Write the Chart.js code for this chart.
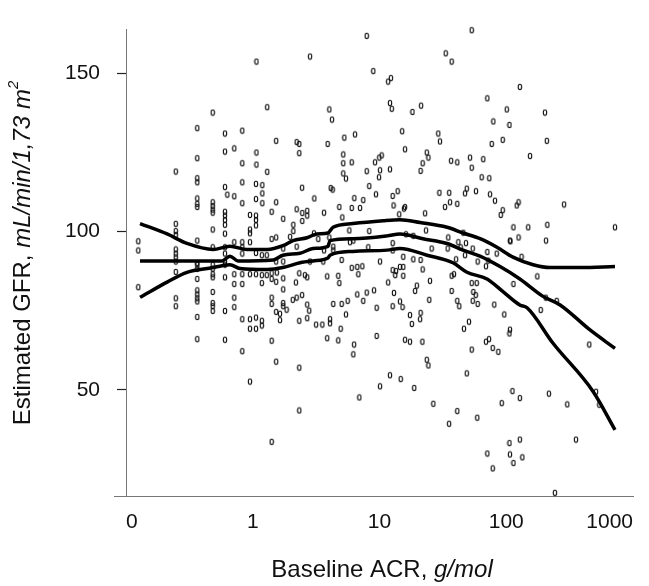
<!DOCTYPE html>
<html lang="en">
<head>
    <meta charset="UTF-8">
    <title>Estimated GFR by baseline ACR</title>
    <style>
        body { margin: 0; background: #fff; }
        #wrap { width: 649px; height: 586px; }
    </style>
    <script src="https://cdn.jsdelivr.net/npm/chart.js@4/dist/chart.umd.min.js"></script>
</head>
<body>
<div id="wrap"><canvas id="gfrChart" width="649" height="586"></canvas></div>
<script>
    // axis ticks
    const xTicks = [0.1, 1, 10, 100, 1000];
    const xTickLabels = ['0', '1', '10', '100', '1000'];
    const yTicks = [50, 100, 150];

    // individual patients: baseline ACR (g/mol) and estimated GFR
    const acr = [
        0.483, 0.365, 0.604, 0.827, 0.604, 0.715, 0.365, 0.827, 0.247, 0.365,
        0.365, 0.827, 0.604, 0.630, 0.715, 0.365, 0.365, 0.365, 0.483, 0.483,
        0.483, 0.483, 0.827, 0.604, 0.604, 0.604, 0.604, 0.951, 0.483, 0.247,
        0.951, 0.951, 0.247, 0.247, 0.604, 0.125, 0.125, 0.365, 0.715, 0.827,
        0.951, 0.247, 0.247, 0.247, 0.247, 0.483, 0.604, 0.604, 0.604, 0.827,
        0.827, 0.365, 0.125, 0.247, 0.247, 0.247, 0.365, 0.365, 0.365, 0.365,
        0.365, 0.365, 0.365, 0.365, 0.365, 0.483, 0.483, 0.483, 0.483, 0.483,
        0.483, 0.483, 0.483, 0.604, 0.604, 0.604, 0.604, 0.715, 0.715, 0.715,
        0.827, 0.827, 0.715, 0.827, 0.827, 0.951, 0.951, 0.951, 0.951,
        7.93, 1.07, 2.83, 8.93, 1.30, 4.02, 4.22, 1.53, 2.22, 2.33,
        3.90, 5.28, 6.41, 1.07, 2.33, 5.18, 1.07, 1.30, 5.18, 6.04,
        5.18, 5.44, 7.93, 9.22, 9.96, 10.4, 10.1, 9.91, 1.06, 1.19,
        1.19, 2.45, 4.12, 4.27, 8.31, 9.38, 1.06, 1.19, 1.53, 3.06,
        6.33, 7.45, 1.06, 1.06, 1.06, 1.41, 2.22, 2.46, 2.69, 2.69,
        1.74, 2.46, 3.65, 4.82, 6.04, 7.02, 5.09, 2.09, 2.09, 1.41,
        1.53, 1.97, 3.04, 3.29, 4.02, 5.78, 8.31, 4.32, 4.32, 5.85,
        6.22, 1.74, 2.22, 3.65, 8.16, 1.06, 1.18, 1.29, 1.74, 1.53,
        2.83, 3.60, 5.03, 10.1, 6.04, 6.68, 7.32, 6.81, 1.06, 1.18,
        1.18, 1.29, 1.41, 1.41, 1.55, 1.53, 1.74, 2.19, 2.33, 2.58,
        2.69, 3.87, 4.73, 4.82, 1.74, 1.41, 1.41, 1.74, 1.74, 2.07,
        2.22, 2.45, 2.69, 2.79, 1.85, 1.53, 1.64, 1.64, 1.06, 1.18,
        1.18, 1.06, 2.33, 2.69, 3.16, 3.54, 4.07, 4.07, 4.32, 5.03,
        5.61, 6.68, 7.93, 9.05, 7.45, 5.44, 9.50, 4.94, 3.87, 4.73,
        6.30, 6.22, 9.50, 1.41, 1.53, 2.33, 10.1, 6.93, 2.33, 1.41,
        53.4, 33.3, 37.1, 11.7, 12.3, 12.1, 12.5, 18.2, 21.3, 70.9,
        101, 79.1, 106, 15.1, 29.1, 30.0, 76.8, 93.8, 15.9, 23.6,
        24.3, 21.9, 21.1, 36.7, 41.1, 51.8, 53.4, 65.9, 64.0, 73.5,
        12.1, 12.7, 13.9, 12.9, 15.9, 15.6, 29.7, 35.5, 47.3, 48.8,
        57.7, 74.5, 81.5, 32.9, 36.0, 41.1, 93.8, 90.4, 14.3, 22.9,
        114, 23.3, 16.2, 18.5, 12.7, 12.7, 25.8, 34.9, 34.5, 45.8,
        41.9, 43.7, 48.1, 54.4, 70.9, 84.1, 107, 15.4, 18.5, 21.1,
        40.2, 47.3, 59.5, 72.2, 12.7, 13.5, 14.5, 15.4, 13.3, 15.4,
        11.7, 21.9, 19.7, 19.1, 25.0, 13.0, 24.7, 12.7, 14.5, 15.2,
        17.4, 18.0, 21.1, 20.9, 15.9, 17.4, 21.8, 23.6, 24.3, 12.1,
        14.7, 18.8, 26.6, 41.1, 35.4, 59.1, 48.8, 37.1, 38.7, 37.1,
        41.1, 42.6, 53.4, 58.5, 55.0, 57.4, 54.4, 59.5, 80.5, 50.8,
        46.4, 69.2, 96.5, 107, 106, 53.4, 69.2, 73.1, 78.2, 86.6,
        112, 92.1, 106, 70.9, 78.2, 107, 114,
        128, 202, 209, 154, 121, 125, 286, 149, 211, 721,
        108, 125, 206, 132, 176, 114, 205, 250, 187, 452,
        128, 217, 303, 511, 542, 128, 355, 134, 242
    ];
    const gfr = [
        137.5, 132.6, 130.9, 131.8, 125.2, 126.2, 123.1, 121.5, 118.9, 116.8,
        115.5, 115.5, 114.0, 111.6, 111.1, 110.4, 108.7, 107.7, 109.2, 108.0,
        106.9, 105.9, 108.9, 106.2, 105.0, 103.6, 102.1, 105.2, 100.6, 102.4,
        100.6, 99.4, 100.1, 98.9, 99.3, 96.9, 94.0, 97.1, 96.6, 96.6,
        96.6, 94.3, 93.0, 91.8, 90.5, 95.0, 95.0, 93.0, 90.5, 95.0,
        93.0, 90.0, 82.4, 87.2, 78.9, 76.4, 89.5, 88.2, 85.0, 81.4,
        80.1, 78.9, 77.9, 73.0, 66.0, 89.5, 88.2, 86.5, 85.5, 80.9,
        77.4, 76.4, 74.9, 89.5, 85.5, 74.9, 65.8, 83.4, 79.1, 76.1,
        86.5, 83.4, 86.5, 72.3, 62.2, 86.5, 72.3, 69.3, 52.6,
        161.7, 153.6, 155.2, 150.6, 139.2, 138.5, 135.3, 128.6, 128.2, 127.6,
        127.6, 129.6, 130.6, 124.9, 124.7, 124.3, 121.1, 118.8, 121.5, 121.8,
        118.3, 116.7, 119.0, 121.8, 123.3, 124.0, 119.3, 117.1, 115.0, 114.6,
        112.0, 113.8, 113.7, 113.2, 114.3, 111.7, 110.2, 108.9, 109.2, 110.4,
        110.5, 109.9, 105.0, 103.6, 101.9, 106.2, 107.0, 105.8, 106.5, 105.0,
        104.0, 103.3, 105.9, 107.7, 107.4, 107.4, 104.4, 102.1, 100.1, 97.6,
        98.1, 98.3, 99.4, 97.6, 98.1, 100.3, 100.1, 95.2, 94.0, 96.6,
        97.1, 94.6, 95.2, 94.0, 95.0, 93.2, 92.5, 92.5, 90.5, 90.5,
        90.5, 90.5, 91.0, 90.5, 88.5, 88.8, 89.0, 86.5, 86.5, 86.2,
        83.7, 86.2, 86.8, 85.0, 87.0, 84.1, 85.2, 83.9, 86.8, 86.2,
        85.5, 85.8, 86.0, 83.7, 81.7, 79.1, 77.1, 77.4, 76.4, 78.4,
        79.1, 79.9, 76.9, 75.0, 75.3, 74.6, 74.0, 72.0, 72.8, 71.8,
        70.3, 69.3, 71.8, 72.6, 70.6, 70.6, 72.3, 71.0, 77.1, 77.1,
        78.1, 80.1, 80.7, 81.4, 78.1, 73.8, 75.9, 69.3, 66.3, 65.6,
        64.3, 61.2, 67.0, 65.5, 58.9, 57.0, 51.1, 47.6, 43.5, 33.6,
        163.5, 156.2, 153.6, 147.3, 148.4, 140.5, 138.7, 137.7, 139.7, 142.0,
        138.5, 134.7, 133.6, 131.6, 130.9, 128.4, 127.6, 128.9, 125.9, 124.9,
        123.3, 121.5, 119.1, 122.3, 121.8, 123.3, 120.1, 122.8, 117.1, 116.8,
        119.6, 111.2, 112.7, 108.2, 107.7, 107.2, 112.2, 112.2, 112.0, 113.5,
        112.7, 111.7, 109.7, 107.7, 109.2, 108.7, 106.7, 105.2, 105.4, 105.7,
        101.3, 100.3, 99.1, 98.6, 96.3, 94.0, 94.6, 98.1, 94.6, 99.6,
        96.6, 95.0, 96.3, 94.6, 93.5, 93.0, 97.1, 92.0, 91.2, 91.0,
        91.2, 92.5, 90.5, 90.8, 87.8, 87.5, 88.8, 88.8, 86.2, 86.0,
        83.9, 88.0, 82.9, 81.2, 84.4, 80.6, 78.4, 76.4, 77.9, 76.1,
        73.6, 70.8, 74.3, 72.3, 65.8, 65.2, 65.2, 59.5, 57.7, 54.6,
        53.4, 50.6, 45.6, 43.3, 39.3, 41.2, 55.2, 86.0, 86.5, 81.2,
        78.1, 76.4, 83.7, 83.7, 80.9, 79.9, 78.1, 77.1, 76.9, 71.5,
        69.3, 89.0, 73.8, 69.0, 67.8, 62.7, 65.2, 66.0, 63.2, 62.0,
        49.6, 45.8, 33.2, 29.9, 25.2, 29.6, 26.9,
        145.6, 137.5, 128.6, 123.8, 108.2, 109.2, 108.5, 101.3, 102.1, 101.3,
        96.9, 98.1, 97.1, 92.0, 85.8, 83.4, 79.1, 78.1, 75.2, 64.3,
        47.4, 48.8, 45.4, 49.4, 45.3, 34.3, 34.3, 28.7, 17.5
    ];

    // smoothed fit and its upper / lower bands
    const upperX = [0.129, 0.211, 0.303, 0.486, 0.661, 0.901, 1.30, 1.73, 2.08, 2.68, 3.21, 3.92,
        4.30, 6.18, 10.7, 14.5, 20.9, 34.1, 45.6, 62.1, 84.5, 113, 163, 221, 382, 721];
    const upperY = [102.5, 99.2, 96.2, 94.3, 95.3, 94.3, 94.3, 95.5, 97.1, 98.0, 99.2, 99.5,
        101.3, 102.5, 103.4, 103.7, 102.8, 101.3, 99.5, 97.7, 95.0, 91.9, 89.5, 88.6, 88.6, 88.9];
    const midX = [0.129, 0.572, 0.661, 0.765, 1.45, 1.73, 2.36, 2.99, 3.92, 4.07, 6.18, 11.5,
        14.5, 22.0, 34.1, 45.6, 62.1, 89.3, 128, 195, 266, 458, 721];
    const midY = [90.7, 90.7, 92.2, 90.7, 91.0, 92.5, 93.1, 94.6, 95.3, 97.1, 97.7, 98.6,
        99.2, 97.7, 96.2, 94.1, 92.2, 88.9, 85.0, 79.5, 76.8, 68.9, 63.1];
    const lowerX = [0.129, 0.211, 0.303, 0.486, 0.572, 0.661, 0.793, 1.30, 1.73, 2.36, 2.99, 3.92,
        4.07, 6.18, 11.5, 14.5, 23.7, 38.0, 49.0, 70.5, 94.3, 128, 146, 234, 484, 721];
    const lowerY = [79.2, 84.0, 87.1, 88.6, 89.2, 89.5, 88.3, 88.0, 88.6, 90.1, 90.7, 91.6,
        92.5, 93.7, 94.1, 94.6, 92.5, 90.1, 87.1, 85.0, 81.0, 76.8, 75.9, 64.7, 49.5, 37.4];

    const xTitle = [{ text: 'Baseline ACR, ' }, { text: 'g/mol', italic: true }];
    const yTitle = [{ text: 'Estimated GFR, ' }, { text: 'mL/min/1,73 m', italic: true }, { text: '2', italic: true, sup: true }];

    const FONT = '"Liberation Sans", Arial, Helvetica, sans-serif';

    const toPoints = (xs, ys) => xs.map((x, i) => ({ x: x, y: ys[i] }));

    // small open "0"-like marker used for each patient
    function ringMark() {
        const c = document.createElement('canvas');
        c.width = 6;
        c.height = 8;
        const g = c.getContext('2d');
        g.strokeStyle = '#111';
        g.lineWidth = 1.1;
        g.beginPath();
        g.ellipse(3, 4, 1.7, 2.7, 0, 0, Math.PI * 2);
        g.stroke();
        return c;
    }

    function drawRuns(ctx, runs, cx, cy, angle, size) {
        const fontFor = r => (r.italic ? 'italic ' : '') + Math.round(r.sup ? size * 0.62 : size) + 'px ' + FONT;
        let total = 0;
        runs.forEach(r => { ctx.font = fontFor(r); r.w = ctx.measureText(r.text).width; total += r.w; });
        ctx.save();
        ctx.translate(cx, cy);
        ctx.rotate(angle);
        ctx.fillStyle = '#111';
        ctx.textBaseline = 'middle';
        ctx.textAlign = 'left';
        let x = -total / 2;
        runs.forEach(r => {
            ctx.font = fontFor(r);
            ctx.fillText(r.text, x, r.sup ? -size * 0.38 : 0);
            x += r.w;
        });
        ctx.restore();
    }

    // axis titles with italic units, plus the little stub of the x axis left of the y axis
    const axisTitles = {
        id: 'axisTitles',
        afterDraw(chart) {
            const ctx = chart.ctx;
            const area = chart.chartArea;
            ctx.save();
            ctx.strokeStyle = '#777';
            ctx.lineWidth = 1;
            ctx.beginPath();
            ctx.moveTo(area.left - 12, area.bottom + 0.5);
            ctx.lineTo(area.left, area.bottom + 0.5);
            ctx.stroke();
            ctx.restore();
            drawRuns(ctx, xTitle, 382, 570, 0, 24);
            drawRuns(ctx, yTitle, 23, 253, -Math.PI / 2, 24);
        }
    };

    const lineStyle = {
        showLine: true,
        borderColor: '#000',
        borderWidth: 3.5,
        pointRadius: 0,
        cubicInterpolationMode: 'monotone',
        fill: false
    };

    new Chart(document.getElementById('gfrChart'), {
        type: 'scatter',
        data: {
            datasets: [
                Object.assign({ label: 'Upper', data: toPoints(upperX, upperY) }, lineStyle),
                Object.assign({ label: 'Fit', data: toPoints(midX, midY) }, lineStyle),
                Object.assign({ label: 'Lower', data: toPoints(lowerX, lowerY) }, lineStyle),
                {
                    label: 'Patients',
                    data: toPoints(acr, gfr),
                    pointStyle: ringMark(),
                    pointRadius: 3,
                    clip: false
                }
            ]
        },
        options: {
            responsive: false,
            animation: false,
            layout: { padding: { top: 10, right: 16, left: 0, bottom: 0 } },
            plugins: {
                legend: { display: false },
                tooltip: { enabled: false }
            },
            scales: {
                x: {
                    type: 'logarithmic',
                    min: 0.1,
                    max: 1000,
                    afterBuildTicks: s => { s.ticks = xTicks.map(v => ({ value: v })); },
                    afterFit: s => { s.height = 90; },
                    grid: { display: false, drawTicks: false },
                    border: { display: true, color: '#777', width: 1 },
                    ticks: {
                        autoSkip: false,
                        maxRotation: 0,
                        align: 'inner',
                        padding: 14,
                        color: '#111',
                        font: { family: FONT, size: 21 },
                        callback: (v, i) => xTickLabels[i]
                    }
                },
                y: {
                    min: 16.5,
                    max: 163.7,
                    afterBuildTicks: s => { s.ticks = yTicks.map(v => ({ value: v })); },
                    afterFit: s => { s.width = 126; },
                    grid: { display: true, drawOnChartArea: false, drawTicks: true, tickLength: 9, tickColor: '#222', tickWidth: 1.2 },
                    border: { display: true, color: '#777', width: 1 },
                    ticks: {
                        padding: 17,
                        color: '#111',
                        font: { family: FONT, size: 21 }
                    }
                }
            }
        },
        plugins: [axisTitles]
    });
</script>
</body>
</html>
